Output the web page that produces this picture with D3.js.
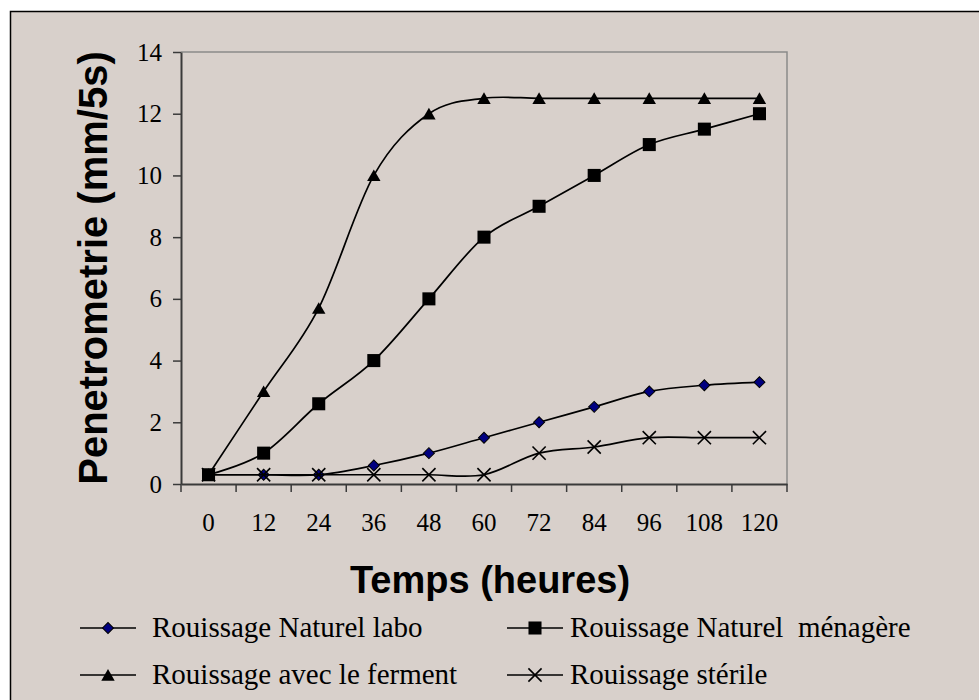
<!DOCTYPE html>
<html>
<head>
<meta charset="utf-8">
<script src="https://cdn.jsdelivr.net/npm/d3@7"></script>
<style>
  body { margin: 0; background: #ffffff; }
  .tick-label { font-family: "Liberation Serif", "Times New Roman", serif; font-size: 25px; fill: #000; }
  .legend-label { font-family: "Liberation Serif", "Times New Roman", serif; font-size: 29px; fill: #000; white-space: pre; }
  .axis-title { font-family: "Liberation Sans", Arial, sans-serif; font-weight: bold; fill: #000; }
</style>
</head>
<body>
<div id="plot-area"></div>
<script>
// data
const hours = ["0", "12", "24", "36", "48", "60", "72", "84", "96", "108", "120"];
const yTicks = [0, 2, 4, 6, 8, 10, 12, 14];
const naturelLabo = [0.3, 0.3, 0.3, 0.6, 1.0, 1.5, 2.0, 2.5, 3.0, 3.2, 3.3];
const naturelMenagere = [0.3, 1.0, 2.6, 4.0, 6.0, 8.0, 9.0, 10.0, 11.0, 11.5, 12.0];
const avecFerment = [0.3, 3.0, 5.7, 10.0, 12.0, 12.5, 12.5, 12.5, 12.5, 12.5, 12.5];
const sterile = [0.3, 0.3, 0.3, 0.3, 0.3, 0.3, 1.0, 1.2, 1.5, 1.5, 1.5];
const seriesNames = ["Rouissage Naturel labo", "Rouissage Naturel  ménagère", "Rouissage avec le ferment", "Rouissage stérile"];

const width = 979, height = 700;
const plot = {left: 181, right: 787, top: 52, bottom: 484};

const series = [
    {name: seriesNames[0], values: naturelLabo, marker: "diamond"},
    {name: seriesNames[1], values: naturelMenagere, marker: "square"},
    {name: seriesNames[2], values: avecFerment, marker: "triangle"},
    {name: seriesNames[3], values: sterile, marker: "x"}
];

const svg = d3.select("#plot-area").append("svg")
    .attr("width", width)
    .attr("height", height);

// chart area
svg.append("rect")
    .attr("x", 10.5).attr("y", 11.5)
    .attr("width", width + 20).attr("height", height + 20)
    .attr("fill", "#d8d0cb")
    .attr("stroke", "#000")
    .attr("stroke-width", 1.5);

const x = d3.scaleBand().domain(hours).range([plot.left, plot.right]);
const y = d3.scaleLinear().domain([0, 14]).range([plot.bottom, plot.top]);
const xc = function (d) { return x(d) + x.bandwidth() / 2; };

// plot area border (top/right in grey)
svg.append("path")
    .attr("d", "M" + plot.left + "," + plot.top + "H" + plot.right + "V" + plot.bottom)
    .attr("fill", "none")
    .attr("stroke", "#8a8a8a")
    .attr("stroke-width", 1.5);

//Draw y-axis
const yAxis = svg.append("g")
    .attr("transform", "translate(" + plot.left + ",0)")
    .call(d3.axisLeft(y).tickValues(yTicks).tickSize(8).tickPadding(11).tickSizeOuter(0));
yAxis.select(".domain").attr("stroke", "#3a3a3a").attr("stroke-width", 2);
yAxis.selectAll(".tick line").attr("stroke", "#3a3a3a").attr("stroke-width", 1.5);
yAxis.selectAll(".tick text").attr("class", "tick-label").attr("font-family", null).attr("font-size", null);

//Draw x-axis: labels at band centres, ticks at band edges
const xAxis = svg.append("g")
    .attr("transform", "translate(0," + plot.bottom + ")")
    .call(d3.axisBottom(x).tickSize(0).tickPadding(29).tickSizeOuter(0));
xAxis.select(".domain").attr("stroke", "#3a3a3a").attr("stroke-width", 2);
xAxis.selectAll(".tick text").attr("class", "tick-label").attr("font-family", null).attr("font-size", null);

const edges = hours.map(function (h) { return x(h); }).concat([x(hours[hours.length - 1]) + x.bandwidth()]);
xAxis.selectAll(".edge")
    .data(edges)
    .enter().append("line")
    .attr("class", "edge")
    .attr("x1", function (d) { return d; })
    .attr("x2", function (d) { return d; })
    .attr("y1", 0).attr("y2", 8)
    .attr("stroke", "#3a3a3a")
    .attr("stroke-width", 1.5);

// axis titles
svg.append("text")
    .attr("class", "axis-title")
    .attr("transform", "translate(107,268) rotate(-90)")
    .attr("text-anchor", "middle")
    .style("font-size", "40px")
    .text("Penetrometrie (mm/5s)");

svg.append("text")
    .attr("class", "axis-title")
    .attr("x", 490).attr("y", 593)
    .attr("text-anchor", "middle")
    .style("font-size", "38px")
    .text("Temps (heures)");

// markers
function markerPath(type) {
    if (type === "diamond") return d3.symbol(d3.symbolSquare, 60)();
    if (type === "square") return d3.symbol(d3.symbolSquare, 170)();
    if (type === "triangle") return d3.symbol(d3.symbolTriangle, 78)();
    return d3.symbol(d3.symbolTimes || d3.symbolX, 115)();
}

function drawMarker(g, type, cx, cy) {
    const p = g.append("path").attr("d", markerPath(type));
    if (type === "diamond") {
        p.attr("transform", "translate(" + cx + "," + cy + ") rotate(45)")
            .attr("fill", "#000080").attr("stroke", "#000").attr("stroke-width", 1);
    } else if (type === "square") {
        p.attr("transform", "translate(" + cx + "," + cy + ")").attr("fill", "#000");
    } else if (type === "triangle") {
        p.attr("transform", "translate(" + cx + "," + (cy + 1.8) + ")").attr("fill", "#000");
    } else {
        p.attr("transform", "translate(" + cx + "," + cy + ")")
            .attr("fill", "none").attr("stroke", "#000").attr("stroke-width", 1.6);
    }
}

const line = d3.line()
    .x(function (d, i) { return xc(hours[i]); })
    .y(function (d) { return y(d); })
    .curve(d3.curveCardinal.tension(0));

series.forEach(function (s) {
    const g = svg.append("g");
    g.append("path")
        .datum(s.values)
        .attr("d", line)
        .attr("fill", "none")
        .attr("stroke", "#000")
        .attr("stroke-width", 1.7);
    s.values.forEach(function (v, i) {
        drawMarker(g, s.marker, xc(hours[i]), y(v));
    });
});

// legend
const legendPos = [
    {lx: 80, tx: 152, cy: 628},
    {lx: 507, tx: 570, cy: 628},
    {lx: 80, tx: 152, cy: 675},
    {lx: 507, tx: 570, cy: 675}
];
series.forEach(function (s, i) {
    const p = legendPos[i];
    const g = svg.append("g");
    g.append("line")
        .attr("x1", p.lx).attr("x2", p.lx + 56)
        .attr("y1", p.cy).attr("y2", p.cy)
        .attr("stroke", "#000").attr("stroke-width", 1.7);
    drawMarker(g, s.marker, p.lx + 28, p.cy);
    g.append("text")
        .attr("class", "legend-label")
        .attr("x", p.tx).attr("y", p.cy + 9)
        .text(s.name);
});
</script>
</body>
</html>
